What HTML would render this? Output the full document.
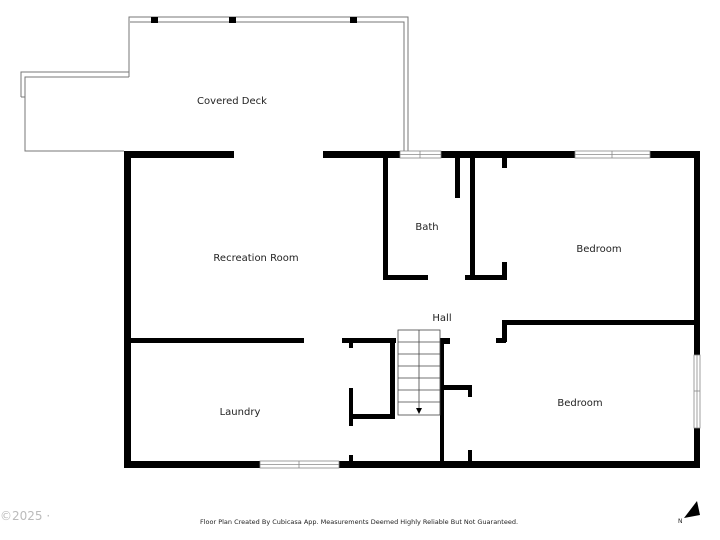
<!DOCTYPE html>
<html><head><style>
html,body{margin:0;padding:0;background:#fff;}
svg{display:block;}
text{font-family:"DejaVu Sans","Liberation Sans",sans-serif;fill:#222;}
</style></head><body>
<svg width="720" height="540" viewBox="0 0 720 540" xmlns="http://www.w3.org/2000/svg">
<!-- Deck outline -->
<g fill="none" stroke="#777" stroke-width="1">
<polyline points="408,151 408,17 129,17 129,72 21,72 21,97"/>
<polyline points="404,151 404,22 130,22"/>
<polyline points="129,77 25,77 25,151 124,151"/>
<line x1="129" y1="22" x2="129" y2="77"/>
<line x1="21" y1="97" x2="25" y2="97"/>
</g>
<g fill="#000">
<rect x="151" y="17" width="7" height="6"/>
<rect x="229" y="17" width="7" height="6"/>
<rect x="350" y="17" width="7" height="6"/>
<!-- outer walls -->
<rect x="124" y="151" width="110" height="7"/>
<rect x="323" y="151" width="77" height="7"/>
<rect x="441" y="151" width="134" height="7"/>
<rect x="650" y="151" width="50" height="7"/>
<rect x="124" y="151" width="7" height="317"/>
<rect x="694" y="151" width="6" height="204"/>
<rect x="694" y="428" width="6" height="40"/>
<rect x="124" y="461" width="136" height="7"/>
<rect x="339" y="461" width="361" height="7"/>
<!-- bath -->
<rect x="383" y="151" width="5" height="129"/>
<rect x="383" y="275" width="45" height="5"/>
<rect x="465" y="275" width="42" height="5"/>
<rect x="455" y="157" width="5" height="41"/>
<rect x="470" y="151" width="5" height="129"/>
<rect x="502" y="157" width="5" height="11"/>
<rect x="502" y="262" width="5" height="18"/>
<!-- bedroom 1 -->
<rect x="502" y="320" width="5" height="22"/>
<rect x="502" y="320" width="198" height="5"/>
<!-- rec/laundry -->
<rect x="124" y="338" width="180" height="5"/>
<rect x="342" y="338" width="54" height="5"/>
<rect x="390" y="338" width="5" height="80"/>
<rect x="350" y="414" width="45" height="5"/>
<rect x="349" y="342" width="4" height="6"/>
<rect x="349" y="388" width="4" height="38"/>
<rect x="349" y="455" width="4" height="10"/>
<!-- hall/closet -->
<rect x="440" y="338" width="10" height="6"/>
<rect x="440" y="338" width="4" height="127"/>
<rect x="440" y="385" width="32" height="5"/>
<rect x="468" y="385" width="4" height="12"/>
<rect x="468" y="450" width="4" height="15"/>
<rect x="496" y="338" width="10" height="5"/>
</g>
<!-- windows -->
<g fill="#fff" stroke="#888" stroke-width="0.8">
<rect x="400" y="151" width="41" height="7"/><line x1="420" y1="151" x2="420" y2="158"/><line x1="400" y1="154.5" x2="441" y2="154.5"/>
<rect x="575" y="151" width="75" height="7"/><line x1="612" y1="151" x2="612" y2="158"/><line x1="575" y1="154.5" x2="650" y2="154.5"/>
<rect x="260" y="461" width="79" height="7"/><line x1="299" y1="461" x2="299" y2="468"/><line x1="260" y1="464.5" x2="339" y2="464.5"/>
<rect x="694" y="355" width="6" height="73"/><line x1="694" y1="391" x2="700" y2="391"/><line x1="697" y1="355" x2="697" y2="428"/>
</g>
<!-- stairs -->
<g fill="none" stroke="#444" stroke-width="0.8">
<rect x="398" y="330" width="42" height="85"/>
<line x1="419" y1="330" x2="419" y2="410"/>
<line x1="398" y1="342" x2="440" y2="342"/>
<line x1="398" y1="354" x2="440" y2="354"/>
<line x1="398" y1="366" x2="440" y2="366"/>
<line x1="398" y1="378" x2="440" y2="378"/>
<line x1="398" y1="390" x2="440" y2="390"/>
<line x1="398" y1="402" x2="440" y2="402"/>
</g>
<polygon points="416,408 422,408 419,414" fill="#000"/>
<g font-size="10" text-anchor="middle">
<text x="232" y="104">Covered Deck</text>
<text x="256" y="261">Recreation Room</text>
<text x="427" y="230">Bath</text>
<text x="599" y="252">Bedroom</text>
<text x="442" y="321">Hall</text>
<text x="240" y="415">Laundry</text>
<text x="580" y="406">Bedroom</text>
</g>
<text x="359" y="524" font-size="6.5" text-anchor="middle">Floor Plan Created By Cubicasa App. Measurements Deemed Highly Reliable But Not Guaranteed.</text>
<text x="0" y="520" font-size="12" fill="#bbb" style="fill:#bbb">©2025 ·</text>
<polygon points="684,518 697,501 700,515" fill="#000"/>
<text x="678" y="523" font-size="6">N</text>
</svg>
</body></html>
